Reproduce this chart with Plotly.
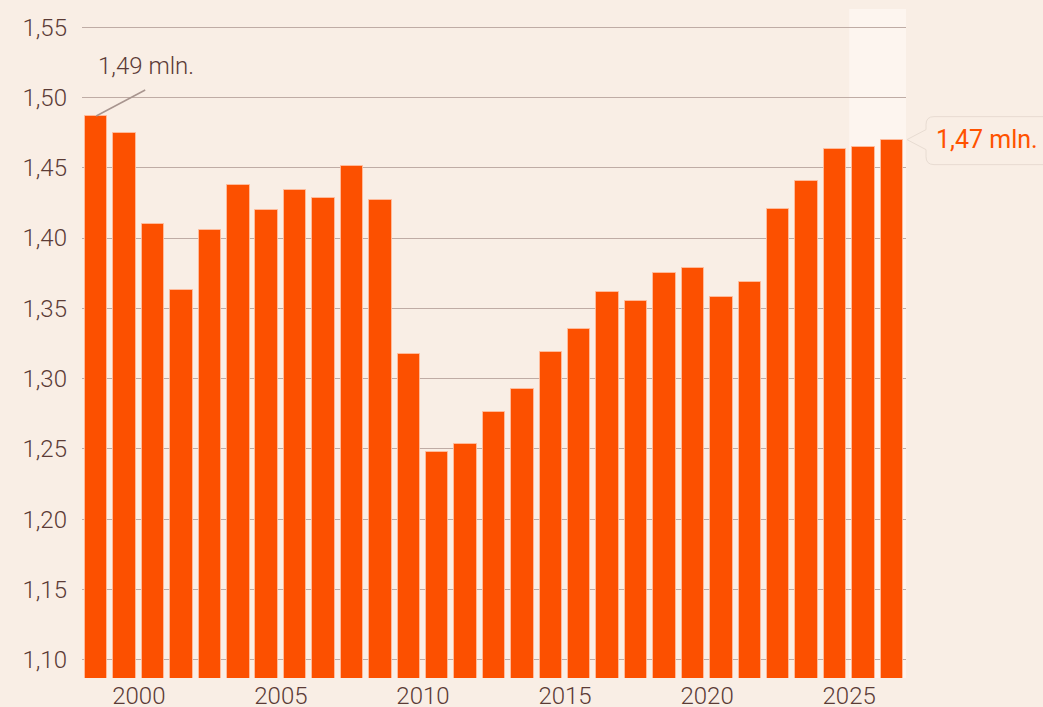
import plotly.graph_objects as go

# Data
years = list(range(1998, 2027))
values = [1.4868, 1.4745, 1.4097, 1.3629, 1.4057, 1.4379, 1.4202, 1.4343, 1.4288, 1.4514,
          1.4271, 1.3174, 1.2476, 1.2536, 1.2760, 1.2929, 1.3193, 1.3350, 1.3616, 1.3550,
          1.3750, 1.3786, 1.3584, 1.3686, 1.4207, 1.4409, 1.4636, 1.4645, 1.4700]
y_ticks = [1.10, 1.15, 1.20, 1.25, 1.30, 1.35, 1.40, 1.45, 1.50, 1.55]
x_ticks = [2000, 2005, 2010, 2015, 2020, 2025]
first_label = "1,49 mln."
last_label = "1,47 mln."
shade_years = (2025, 2027)

BG = "#f9eee5"
BAR = "#fc5000"
TXT = "#5b3b36"
GRID = "#bfaca5"

fig = go.Figure()
fig.add_trace(go.Bar(
    x=years, y=values, width=0.79, offset=0.105,
    marker=dict(color=BAR, line=dict(color="rgba(255,190,160,0.85)", width=1)),
    hoverinfo="x+y",
))

fig.update_layout(
    width=1043, height=707,
    margin=dict(l=82, r=137, t=9, b=29, autoexpand=False),
    paper_bgcolor=BG, plot_bgcolor=BG,
    separators=",.",
    showlegend=False,
    font=dict(family="Roboto", color=TXT, size=24, weight=300),
    bargap=0,
)
fig.update_xaxes(
    range=[1998, 2027], tickvals=x_ticks, ticktext=[str(t) for t in x_ticks],
    showgrid=False, zeroline=False, showline=False, ticks="", automargin=False,
    ticklabelstandoff=1, tickfont=dict(size=24, color=TXT, weight=300),
)
fig.update_yaxes(
    range=[1.0871, 1.5629], tickvals=y_ticks, tickformat=".2f", automargin=False,
    showgrid=True, gridcolor=GRID, gridwidth=1, zeroline=False, showline=False,
    ticks="", ticklabelstandoff=14, tickfont=dict(size=24, color=TXT, weight=300),
)

# forecast shading
fig.add_shape(type="rect", xref="x", yref="paper", x0=shade_years[0], x1=shade_years[1],
              y0=0, y1=1, fillcolor="#fdf5ef", line=dict(width=0), layer="below")

# leader line for first bar
fig.add_shape(type="line", xref="x", yref="y", xsizemode="pixel", ysizemode="pixel",
              xanchor=years[0] + 0.5, yanchor=values[0], x0=0, y0=0, x1=49, y1=26,
              line=dict(color="#a8958f", width=1.5))
fig.add_annotation(x=years[0] + 0.5, y=values[0], xref="x", yref="y", text=first_label,
                   showarrow=False, xanchor="left", yanchor="middle", xshift=0, yshift=50,
                   font=dict(size=24, color=TXT, weight=300))

# callout for last bar
fig.add_shape(type="path", xref="paper", yref="y", xsizemode="pixel", ysizemode="pixel",
              xanchor=1, yanchor=values[-1],
              path="M 1,0 L 20,10 L 20,15 Q 20,23 28,23 L 170,23 L 170,-25 L 28,-25 Q 20,-25 20,-17 L 20,-10 Z",
              fillcolor=BG, line=dict(color="#e8dcd2", width=1), layer="above")
fig.add_annotation(x=1, y=values[-1], xref="paper", yref="y", text=last_label,
                   showarrow=False, xanchor="left", yanchor="middle", xshift=28, yshift=0,
                   font=dict(size=25, color="#ff5200", weight=400))

fig.write_html(
    "out.html",
    config={"displayModeBar": False},
    post_script="document.body.style.margin='0';document.body.style.overflow='hidden';"
                "document.documentElement.style.overflow='hidden';",
)
